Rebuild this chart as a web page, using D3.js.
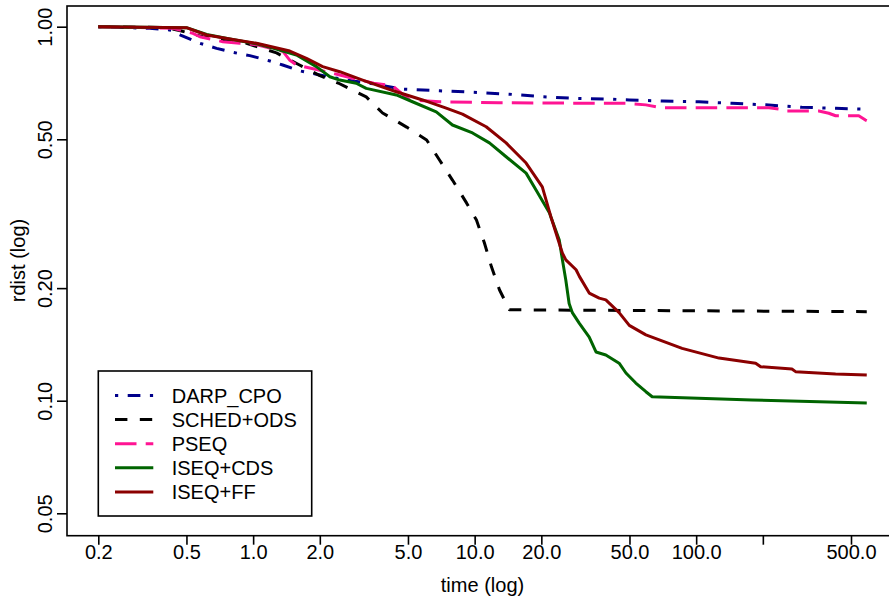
<!DOCTYPE html>
<html>
<head>
<meta charset="utf-8">
<script src="https://cdn.jsdelivr.net/npm/d3@7"></script>
<style>
  body { margin: 0; background: #fff; }
  svg { display: block; font-family: "Liberation Sans", Arial, Helvetica, sans-serif; }
</style>
</head>
<body>
<div id="chart"></div>
<script>
// data: [time, rdist]
const darpCpo = [[0.2, 1.0], [0.34, 0.99], [0.42, 0.98], [0.47, 0.95], [0.575, 0.903], [0.684, 0.875], [0.81, 0.854],
  [0.966, 0.837], [1.19, 0.81], [1.36, 0.79], [1.62, 0.762], [2.0, 0.743], [2.64, 0.72], [3.36, 0.706], [4.73, 0.681],
  [6.94, 0.674], [9.78, 0.668], [14.35, 0.66], [20.2, 0.65], [28.7, 0.643], [41.8, 0.64], [49.9, 0.637], [70.2, 0.633],
  [103, 0.63], [145, 0.624], [206, 0.618], [300, 0.609], [426, 0.605], [589, 0.602]]

const schedOds = [[0.2, 1.0], [0.40, 0.995], [0.47, 0.975], [0.593, 0.94], [0.934, 0.903], [1.275, 0.851], [1.62, 0.79],
  [2.0, 0.74], [2.42, 0.707], [3.24, 0.649], [3.84, 0.588], [4.93, 0.539], [6.07, 0.498], [6.94, 0.44], [7.94, 0.389],
  [9.19, 0.338], [10.19, 0.304], [11.07, 0.264], [11.91, 0.228], [12.94, 0.198], [14.35, 0.175], [589, 0.173]]

const pseq = [[0.2, 1.0], [0.435, 0.99], [0.535, 0.96], [0.575, 0.94], [0.73, 0.912], [0.87, 0.903], [1.04, 0.895],
  [1.36, 0.86], [1.46, 0.815], [1.57, 0.79], [2.0, 0.765], [2.46, 0.743], [3.5, 0.706], [4.26, 0.695], [5.08, 0.637],
  [6.94, 0.63], [12.9, 0.626], [36.5, 0.624], [48.2, 0.624], [59.3, 0.618], [70.2, 0.607], [213, 0.607], [236, 0.602],
  [249, 0.595], [358, 0.595], [397, 0.587], [426, 0.578], [542, 0.578], [581, 0.563], [589, 0.561]]

const iseqCds = [[0.2, 1.0], [0.5, 0.994], [0.617, 0.953], [0.785, 0.927], [1.036, 0.9], [1.227, 0.877], [1.569, 0.84],
  [1.93, 0.782], [2.22, 0.735], [2.46, 0.72], [2.92, 0.706], [3.24, 0.684], [4.43, 0.657], [5.24, 0.63], [6.71, 0.592],
  [7.94, 0.546], [9.78, 0.52], [11.66, 0.489], [13.87, 0.449], [17.07, 0.406], [18.93, 0.366], [21.74, 0.318],
  [24.1, 0.269], [24.9, 0.238], [25.8, 0.21], [26.7, 0.182], [27.6, 0.172], [29.7, 0.161], [32.9, 0.148], [35.3, 0.135],
  [39.1, 0.1325], [44.9, 0.126], [48.2, 0.1186], [53.4, 0.1115], [59.3, 0.1057], [63.3, 0.1025], [178.6, 0.1004], [589, 0.0986]]

const iseqFf = [[0.2, 1.0], [0.5, 0.994], [0.617, 0.95], [0.785, 0.927], [1.036, 0.903], [1.464, 0.861], [1.74, 0.823],
  [2.06, 0.782], [2.46, 0.758], [3.12, 0.72], [4.43, 0.67], [5.82, 0.637], [7.44, 0.606], [8.81, 0.584], [11.27, 0.54],
  [13.87, 0.489], [17.07, 0.432], [20.2, 0.373], [22.1, 0.31], [24.9, 0.248], [25.8, 0.238], [28.7, 0.224], [29.7, 0.215],
  [32.9, 0.194], [36.5, 0.188], [39.1, 0.186], [44.9, 0.172], [49.9, 0.159], [59.3, 0.15], [86.4, 0.138], [126.8, 0.13],
  [185.6, 0.126], [195.5, 0.1233], [270.5, 0.1215], [281, 0.1196], [426, 0.1179], [589, 0.1171]]

const seriesNames = ['DARP_CPO', 'SCHED+ODS', 'PSEQ', 'ISEQ+CDS', 'ISEQ+FF']
const seriesData = [darpCpo, schedOds, pseq, iseqCds, iseqFf]
const xTicks = [0.2, 0.5, 1, 2, 5, 10, 20, 50, 100, 200, 500]
const xTickLabels = ['0.2', '0.5', '1.0', '2.0', '5.0', '10.0', '20.0', '50.0', '100.0', '', '500.0']
const yTicks = [0.05, 0.1, 0.2, 0.5, 1]
const yTickLabels = ['0.05', '0.10', '0.20', '0.50', '1.00']

// styles
const colors = ['#00008b', '#000000', '#ff1493', '#006400', '#8b0000']
const dashes = ['3.2,9.5,12.7,9.5', '12.4,12.4', '21.5,9.2', null, null]

const width = 889
const height = 599
const box = { left: 67, top: 6, right: 899, bottom: 535.7 }

const svg = d3.select('#chart').append('svg')
  .attr('width', width)
  .attr('height', height)

const x = d3.scaleLog().domain([0.2, 500]).range([98.3, 851])
const y = d3.scaleLog().domain([0.05, 1]).range([513.3, 26.7])

svg.append('clipPath').attr('id', 'plotclip')
  .append('rect')
  .attr('x', box.left).attr('y', box.top)
  .attr('width', box.right - box.left).attr('height', box.bottom - box.top)

const line = d3.line()
  .x(d => x(d[0]))
  .y(d => y(d[1]))

const lines = svg.append('g').attr('clip-path', 'url(#plotclip)')
seriesData.forEach((data, i) => {
  lines.append('path')
    .datum(data)
    .attr('d', line)
    .attr('fill', 'none')
    .attr('stroke', colors[i])
    .attr('stroke-width', 3)
    .attr('stroke-linejoin', 'round')
    .attr('stroke-dasharray', dashes[i])
})

// frame
svg.append('rect')
  .attr('x', box.left).attr('y', box.top)
  .attr('width', box.right - box.left).attr('height', box.bottom - box.top)
  .attr('fill', 'none')
  .attr('stroke', '#000')
  .attr('stroke-width', 1.6)

// x axis
const xAxis = svg.append('g')
  .attr('transform', `translate(0,${box.bottom})`)
  .call(d3.axisBottom(x).tickValues(xTicks).tickSize(9).tickFormat((d, i) => xTickLabels[i]))
xAxis.select('.domain').remove()
xAxis.selectAll('line').attr('stroke-width', 1.6)
xAxis.selectAll('text')
  .attr('dy', null)
  .attr('y', 23.8)
  .attr('fill', '#000')
  .style('font-size', '20px')
  .style('font-family', '"Liberation Sans", Arial, sans-serif')

// y axis
const yAxis = svg.append('g')
  .attr('transform', `translate(${box.left},0)`)
  .call(d3.axisLeft(y).tickValues(yTicks).tickSize(10).tickFormat((d, i) => yTickLabels[i]))
yAxis.select('.domain').remove()
yAxis.selectAll('line').attr('stroke-width', 1.6)
yAxis.selectAll('text')
  .attr('x', null)
  .attr('dy', null)
  .attr('text-anchor', 'middle')
  .attr('transform', 'translate(-15.5,0)rotate(-90)')
  .attr('fill', '#000')
  .style('font-size', '20px')
  .style('font-family', '"Liberation Sans", Arial, sans-serif')

// axis titles
svg.append('text')
  .attr('x', 482.5).attr('y', 592)
  .attr('text-anchor', 'middle')
  .style('font-size', '20px')
  .text('time (log)')

svg.append('text')
  .attr('transform', 'translate(25,260.5)rotate(-90)')
  .attr('text-anchor', 'middle')
  .style('font-size', '20px')
  .text('rdist (log)')

// legend
const legend = svg.append('g')
legend.append('rect')
  .attr('x', 98.3).attr('y', 371)
  .attr('width', 213.4).attr('height', 145)
  .attr('fill', '#fff')
  .attr('stroke', '#000')
  .attr('stroke-width', 1.6)

seriesNames.forEach((name, i) => {
  const ry = 395.5 + i * 24.1
  legend.append('line')
    .attr('x1', 115).attr('x2', 153.3)
    .attr('y1', ry).attr('y2', ry)
    .attr('stroke', colors[i])
    .attr('stroke-width', 3)
    .attr('stroke-dasharray', dashes[i])
  legend.append('text')
    .attr('x', 171.7).attr('y', ry + 7.3)
    .style('font-size', '20px')
    .text(name)
})
</script>
</body>
</html>
